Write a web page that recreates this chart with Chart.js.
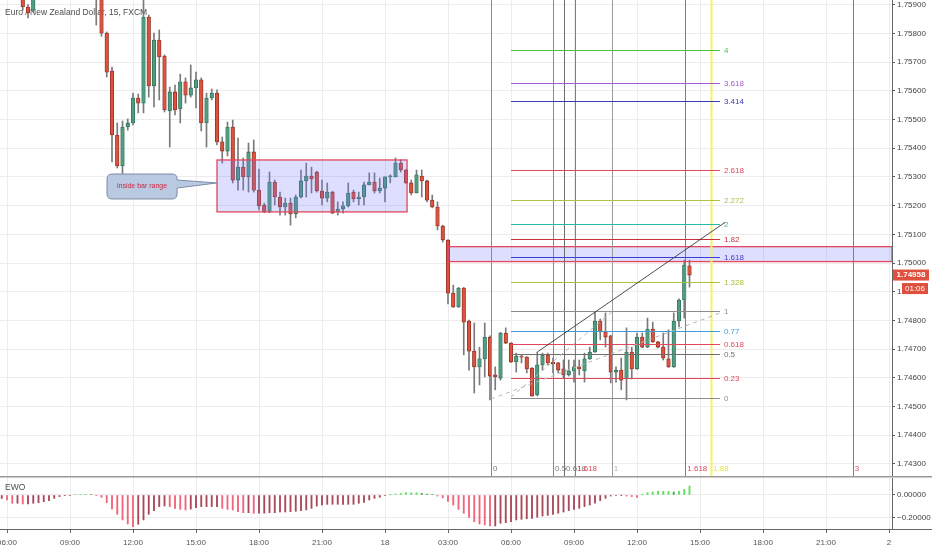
<!DOCTYPE html>
<html><head><meta charset="utf-8">
<script src="https://cdn.jsdelivr.net/npm/chart.js@4.4.0/dist/chart.umd.min.js"></script>
<style>
html,body{margin:0;padding:0;background:#fff;overflow:hidden;width:932px;height:550px}
.pane{position:absolute;left:0;width:932px}
</style></head><body>
<div class="pane" style="top:0;height:476px"><canvas id="main"></canvas></div>
<div class="pane" style="top:476px;height:74px"><canvas id="ewo"></canvas></div>
<script>
// ---------- data ----------
const titleText = 'Euro / New Zealand Dollar, 15, FXCM';
const timeLabels = ['06:00','09:00','12:00','15:00','18:00','21:00','18','03:00','06:00','09:00','12:00','15:00','18:00','21:00','2'];
const timeTickIdx = timeLabels.map((_, k) => 1 + 12 * k);
const priceTicks = [1.743,1.744,1.745,1.746,1.747,1.748,1.749,1.750,1.751,1.752,1.753,1.754,1.755,1.756,1.757,1.758,1.759];
const ewoTicks = [0, -0.2];

const opens = [1.7596,1.7595,1.7597,1.7598,1.7594,1.75892,1.75881,1.7595,1.7600,1.7602,1.7599,1.7605,1.7603,1.7598,1.7601,1.7603,1.7597,1.7599,1.7595,1.7593,
1.75801,1.75669,1.75446,1.75338,1.75474,1.75488,1.75575,1.75557,1.75857,1.75617,1.75777,1.75721,1.7553,1.75596,1.75537,1.75631,1.75585,1.7561,1.75638,1.75488,
1.75575,1.75592,1.75422,1.7539,1.75474,1.75289,1.75334,1.753,1.75387,1.75254,1.75202,1.75178,1.75282,1.7523,1.75195,1.75209,1.75171,1.7523,1.75286,1.75303,
1.75317,1.75251,1.75226,1.75247,1.75178,1.75188,1.75199,1.75247,1.75223,1.7523,1.75272,1.75282,1.75251,1.75261,1.753,1.753,1.75348,1.75324,1.75279,1.75244,
1.75303,1.75286,1.75219,1.75195,1.75129,1.7508,1.74895,1.74847,1.74913,1.74798,1.74693,1.74638,1.74666,1.74742,1.7461,1.74599,1.74756,1.74721,1.74655,1.74676,
1.74672,1.74634,1.7454,1.74645,1.74679,1.74655,1.74652,1.74631,1.7461,1.74624,1.74638,1.74624,1.74666,1.7469,1.74798,1.7476,1.74746,1.7462,1.74627,1.74596,
1.7469,1.74631,1.74742,1.74707,1.7477,1.74725,1.74707,1.74666,1.74638,1.74798,1.74871,1.7499];
const highs = [1.7599,1.7598,1.7600,1.7600,1.7596,1.7590,1.7598,1.7601,1.7604,1.7603,1.7606,1.7608,1.7604,1.7602,1.7605,1.7604,1.7600,1.7601,1.7597,1.7594,
1.75805,1.75683,1.75488,1.75495,1.75502,1.75592,1.75589,1.7592,1.75864,1.75801,1.75812,1.75725,1.75613,1.7562,1.75658,1.75645,1.7569,1.75665,1.75645,1.75592,
1.75606,1.75603,1.75439,1.75491,1.75498,1.75435,1.75366,1.75418,1.75429,1.75327,1.75209,1.75317,1.75289,1.75247,1.75226,1.75226,1.75237,1.75324,1.75348,1.75334,
1.7532,1.75289,1.75279,1.7525,1.75213,1.75213,1.75279,1.75254,1.75247,1.75282,1.75314,1.75314,1.75296,1.753,1.75307,1.75366,1.75359,1.75326,1.75289,1.75324,
1.75324,1.75289,1.75237,1.75213,1.75132,1.75082,1.74923,1.74915,1.74915,1.74801,1.74791,1.74707,1.74791,1.74746,1.74638,1.74758,1.74774,1.74723,1.74686,1.74679,
1.74674,1.74636,1.7469,1.74686,1.74686,1.74669,1.74654,1.74662,1.74662,1.74662,1.74662,1.74686,1.74707,1.74829,1.74805,1.74826,1.74748,1.74638,1.74669,1.74774,
1.74707,1.74756,1.74756,1.74808,1.74794,1.74727,1.74756,1.74767,1.74826,1.74875,1.7501,1.7501];
const lows = [1.7593,1.7592,1.7594,1.7593,1.7588,1.75854,1.75875,1.7594,1.7598,1.7597,1.7598,1.7601,1.7597,1.7594,1.7599,1.7596,1.7593,1.7593,1.75829,1.7579,
1.75648,1.75352,1.75331,1.75289,1.75463,1.75481,1.75523,1.75523,1.75578,1.75544,1.75568,1.75526,1.75404,1.75516,1.75488,1.75557,1.75578,1.7554,1.7546,1.75404,
1.75568,1.75411,1.75348,1.75373,1.75279,1.75254,1.75254,1.75247,1.75247,1.75185,1.75175,1.75175,1.75202,1.75167,1.75167,1.75132,1.75157,1.75226,1.7523,1.75244,
1.75247,1.75202,1.75213,1.75172,1.75167,1.75174,1.75195,1.75213,1.75202,1.75202,1.75272,1.75244,1.75244,1.75213,1.75279,1.753,1.75317,1.75277,1.75237,1.75244,
1.7523,1.75213,1.75192,1.75115,1.75073,1.74857,1.74845,1.74845,1.7468,1.74627,1.74547,1.74575,1.74603,1.74523,1.74558,1.74592,1.74719,1.74653,1.7462,1.74652,
1.74617,1.74535,1.74537,1.74627,1.74645,1.74617,1.74617,1.74599,1.74606,1.74585,1.7461,1.74585,1.74664,1.74688,1.74732,1.74707,1.74582,1.74585,1.74558,1.74523,
1.74596,1.74629,1.74705,1.74705,1.74723,1.74704,1.74662,1.74636,1.74636,1.74777,1.74808,1.74916];
const closes = [1.7595,1.7597,1.7598,1.7594,1.75892,1.75871,1.7595,1.7600,1.7602,1.7599,1.7605,1.7603,1.7598,1.7601,1.7603,1.7597,1.7599,1.7595,1.7593,1.75801,
1.75665,1.75446,1.75338,1.75474,1.75488,1.75575,1.75557,1.75857,1.75617,1.75777,1.75718,1.75533,1.75596,1.75533,1.75631,1.75585,1.7561,1.75638,1.75488,1.75575,
1.75592,1.75422,1.7539,1.75474,1.75289,1.75334,1.753,1.75387,1.75254,1.75199,1.7518,1.75282,1.7523,1.75195,1.75209,1.75171,1.7523,1.75286,1.75303,1.75293,
1.75251,1.75226,1.75247,1.75174,1.75188,1.75199,1.75244,1.75223,1.7523,1.75272,1.75282,1.75251,1.75261,1.753,1.75301,1.75348,1.75324,1.75279,1.75244,1.75307,
1.75286,1.75219,1.75195,1.75129,1.7508,1.74895,1.74847,1.74913,1.74794,1.74693,1.74638,1.74666,1.74742,1.74606,1.74603,1.74756,1.74721,1.74655,1.74676,1.74672,
1.74631,1.74537,1.74645,1.74679,1.74652,1.74648,1.74627,1.7461,1.74624,1.74638,1.74631,1.74666,1.7469,1.74798,1.7476,1.74742,1.7462,1.74627,1.74592,1.7469,
1.74631,1.74742,1.74707,1.7477,1.74725,1.74707,1.74669,1.74638,1.74798,1.74871,1.74993,1.74958];

const ewo = [-0.03,-0.043,-0.072,-0.072,-0.078,-0.078,-0.072,-0.067,-0.058,-0.049,-0.029,-0.014,-0.006,-0.002,0.005,0.006,0.006,0.003,-0.006,-0.02,
-0.067,-0.124,-0.168,-0.217,-0.252,-0.275,-0.255,-0.217,-0.168,-0.136,-0.101,-0.096,-0.101,-0.116,-0.125,-0.13,-0.122,-0.11,-0.101,-0.101,
-0.101,-0.101,-0.116,-0.125,-0.13,-0.145,-0.154,-0.154,-0.159,-0.159,-0.159,-0.154,-0.154,-0.148,-0.148,-0.145,-0.142,-0.136,-0.13,-0.116,
-0.096,-0.087,-0.081,-0.081,-0.081,-0.081,-0.081,-0.081,-0.072,-0.064,-0.043,-0.029,-0.02,-0.006,0.001,0.009,0.014,0.02,0.02,0.02,
0.014,0.009,0.003,-0.009,-0.025,-0.055,-0.087,-0.125,-0.159,-0.194,-0.232,-0.252,-0.261,-0.27,-0.27,-0.246,-0.241,-0.232,-0.217,-0.212,
-0.206,-0.203,-0.194,-0.183,-0.177,-0.168,-0.159,-0.148,-0.136,-0.125,-0.116,-0.101,-0.087,-0.072,-0.049,-0.029,-0.009,-0.003,-0.001,-0.009,
-0.014,-0.02,0.001,0.02,0.026,0.032,0.032,0.032,0.026,0.032,0.049,0.078];

// drawing tools (bar index / price)
const fibLevels = [0,0.23,0.5,0.618,0.77,1,1.328,1.618,1.82,2,2.272,2.618,3.414,3.618,4];
const fibLabels = ['0','0.23','0.5','0.618','0.77','1','1.328','1.618','1.82','2','2.272','2.618','3.414','3.618','4'];
const fibColors = ['#8c8c8c','#e2475c','#6e6e6e','#e2475c','#3d9fd6','#8c8c8c','#a9c23a','#3c3cd6','#c8323f','#2db8a8','#b2c244','#e2475c','#3a3ab4','#a35ad2','#4cc244'];
const fibStartIdx = 97, fibEndIdx = 136.8;
const fibPrice0 = 1.745307, fibPrice1 = 1.748338;

const timeFibIdx = [93.2,105.0,107.1,109.2,116.2,130.2,135.1,162.1];
const timeFibLabels = ['0','0.5','0.618','1.618','1','1.618','1.88','3'];
const timeFibColors = ['#8a8a8a','#8a8a8a','#6e6e6e','#e8505f','#9a9a9a','#e8505f','#f3f36a','#e8505f'];
const timeFibTextColors = ['#7a7a7a','#7a7a7a','#7a7a7a','#e2475c','#b0b0b0','#e2475c','#e6e23c','#e2475c'];

const zoneStart = [41, 85], zoneEnd = [77.2, 170], zoneTop = [1.75359, 1.75057], zoneBottom = [1.75178, 1.75005];
const trendX = [102.1, 137.8], trendY = [1.74691, 1.75142];
const dashAX = [93.2, 136.8], dashAY = [1.745261, 1.748258];
const dashBX = [97, 116.2], dashBY = [1.745331, 1.748293];
const calloutX = [20.05, 33.4], calloutY = [1.7531, 1.75223], calloutTip = [41, 1.75279];
const calloutText = 'inside bar range';
const timerText = '01:06';

// ---------- derived ----------
const idx = opens.map((_, i) => i);
const isUp = idx.map(i => closes[i] >= opens[i]);
const xMin = -1.75 / 5.25, xMax = xMin + 892 / 5.25;
const FONT = '"Liberation Sans", Arial, sans-serif';

function lineP(ctx, x, y, xs, ys, color, w, dash) {
  ctx.save(); ctx.strokeStyle = color; ctx.lineWidth = w; ctx.setLineDash(dash || []);
  ctx.beginPath(); ctx.moveTo(x.getPixelForValue(xs[0]), y.getPixelForValue(ys[0]));
  ctx.lineTo(x.getPixelForValue(xs[1]), y.getPixelForValue(ys[1])); ctx.stroke(); ctx.restore();
}

const overlay = {
  id: 'overlay',
  beforeDatasetsDraw(chart) {
    const ctx = chart.ctx;
    ctx.save(); ctx.font = '8.5px ' + FONT; ctx.fillStyle = '#4d4d4d'; ctx.textBaseline = 'middle';
    ctx.fillText(titleText, 5, 13); ctx.restore();
  },
  afterDatasetsDraw(chart) {
    const {ctx, chartArea: a, scales: {x, y}} = chart;
    ctx.save();
    ctx.beginPath(); ctx.rect(a.left, a.top, a.right - a.left, a.bottom - a.top); ctx.clip();
    // zones
    for (let k = 0; k < zoneStart.length; k++) {
      const x0 = x.getPixelForValue(zoneStart[k]), x1 = Math.min(x.getPixelForValue(zoneEnd[k]), a.right);
      const y0 = y.getPixelForValue(zoneTop[k]), y1 = y.getPixelForValue(zoneBottom[k]);
      ctx.fillStyle = 'rgba(118,118,250,0.24)'; ctx.fillRect(x0, y0, x1 - x0, y1 - y0);
      ctx.strokeStyle = '#e2475c'; ctx.lineWidth = 1.3; ctx.strokeRect(x0, y0, x1 - x0, y1 - y0);
    }
    // time fib verticals
    for (let k = 0; k < timeFibIdx.length; k++) {
      const px = Math.round(x.getPixelForValue(timeFibIdx[k])) + 0.5;
      ctx.strokeStyle = timeFibColors[k]; ctx.lineWidth = timeFibColors[k] === '#f3f36a' ? 2 : 1;
      ctx.beginPath(); ctx.moveTo(px, a.top); ctx.lineTo(px, a.bottom); ctx.stroke();
    }
    ctx.font = '8px ' + FONT; ctx.textBaseline = 'middle';
    for (let k = 0; k < timeFibIdx.length; k++) {
      const px = x.getPixelForValue(timeFibIdx[k]);
      ctx.fillStyle = timeFibTextColors[k]; ctx.fillText(timeFibLabels[k], px + 2, a.bottom - 7);
    }
    // fib extension levels
    const fx0 = x.getPixelForValue(fibStartIdx), fx1 = x.getPixelForValue(fibEndIdx);
    for (let k = 0; k < fibLevels.length; k++) {
      const p = fibPrice0 + fibLevels[k] * (fibPrice1 - fibPrice0);
      const py = Math.round(y.getPixelForValue(p)) + 0.5;
      ctx.strokeStyle = fibColors[k]; ctx.lineWidth = 1;
      ctx.beginPath(); ctx.moveTo(fx0, py); ctx.lineTo(fx1, py); ctx.stroke();
      ctx.fillStyle = fibColors[k]; ctx.fillText(fibLabels[k], fx1 + 4, py);
    }
    // trend lines
    lineP(ctx, x, y, trendX, trendY, '#3a3a3a', 0.9);
    lineP(ctx, x, y, dashAX, dashAY, '#b5b5b5', 1, [4, 4]);
    lineP(ctx, x, y, dashBX, dashBY, '#b5b5b5', 1, [4, 4]);
    // callout
    const cx0 = x.getPixelForValue(calloutX[0]), cx1 = x.getPixelForValue(calloutX[1]);
    const cy0 = y.getPixelForValue(calloutY[0]), cy1 = y.getPixelForValue(calloutY[1]);
    const tx = x.getPixelForValue(calloutTip[0]), ty = y.getPixelForValue(calloutTip[1]);
    const r = 5;
    ctx.beginPath();
    ctx.moveTo(cx0 + r, cy0);
    ctx.lineTo(cx1 - r, cy0); ctx.quadraticCurveTo(cx1, cy0, cx1, cy0 + r);
    ctx.lineTo(cx1, cy0 + 6); ctx.lineTo(tx, ty); ctx.lineTo(cx1, cy0 + 14);
    ctx.lineTo(cx1, cy1 - r); ctx.quadraticCurveTo(cx1, cy1, cx1 - r, cy1);
    ctx.lineTo(cx0 + r, cy1); ctx.quadraticCurveTo(cx0, cy1, cx0, cy1 - r);
    ctx.lineTo(cx0, cy0 + r); ctx.quadraticCurveTo(cx0, cy0, cx0 + r, cy0);
    ctx.closePath();
    ctx.fillStyle = '#b9c9e2'; ctx.fill(); ctx.strokeStyle = '#7d8ca6'; ctx.lineWidth = 1; ctx.stroke();
    ctx.fillStyle = '#c8283f'; ctx.font = '7px ' + FONT; ctx.textAlign = 'center';
    ctx.fillText(calloutText, (cx0 + cx1) / 2, (cy0 + cy1) / 2);
    ctx.restore();
  },
  afterDraw(chart) {
    const {ctx, chartArea: a, scales: {y}} = chart;
    const last = closes[closes.length - 1];
    const py = y.getPixelForValue(last);
    ctx.save();
    ctx.fillStyle = '#df4f3e';
    ctx.fillRect(a.right + 1, py - 5.5, 36, 11);
    ctx.fillRect(a.right + 10, py + 8, 26, 11);
    ctx.fillStyle = '#fff'; ctx.font = 'bold 8px ' + FONT; ctx.textBaseline = 'middle'; ctx.textAlign = 'center';
    ctx.fillText(last.toFixed(5), a.right + 19, py);
    ctx.font = '8px ' + FONT;
    ctx.fillText(timerText, a.right + 23, py + 13.5);
    ctx.restore();
  }
};

const xScaleBase = (showLabels) => ({
  type: 'linear', min: xMin, max: xMax, offset: false,
  afterBuildTicks: s => { s.ticks = timeTickIdx.map(v => ({value: v})); },
  grid: {color: '#ececec', offset: false, drawTicks: showLabels, tickLength: 4, tickColor: '#666'},
  border: {display: showLabels, color: '#666', width: 1},
  ticks: {display: showLabels, autoSkip: false, maxRotation: 0, padding: 5, color: '#555',
          font: {size: 8, family: FONT}, callback: (v, i) => timeLabels[i]},
  afterFit: s => { if (showLabels) { s.height = 21; } else { s.height = 0; } s.paddingLeft = 0; s.paddingRight = 0; }
});

new Chart(document.getElementById('main'), {
  type: 'bar',
  data: {
    datasets: [
      {label: 'body', order: 1, grouped: false, data: idx.map(i => ({x: i, y: [opens[i], closes[i]]})),
       backgroundColor: idx.map(i => isUp[i] ? '#4f9e80' : '#d9533f'),
       borderColor: idx.map(i => isUp[i] ? '#2f6a55' : '#8e2b22'),
       borderWidth: 0.8, borderSkipped: false, minBarLength: 1,
       categoryPercentage: 1, barPercentage: 1, maxBarThickness: 3.6},
      {label: 'wick', order: 2, grouped: false, data: idx.map(i => ({x: i, y: [lows[i], highs[i]]})),
       backgroundColor: '#7a7a7a', borderWidth: 0, categoryPercentage: 1, barPercentage: 1, maxBarThickness: 1}
    ]
  },
  options: {
    responsive: true, maintainAspectRatio: false, animation: false, events: [],
    layout: {padding: 0},
    plugins: {legend: {display: false}, tooltip: {enabled: false}},
    scales: {
      x: xScaleBase(false),
      y: {type: 'linear', position: 'right', min: 1.7425784, max: 1.7591638,
          afterBuildTicks: s => { s.ticks = priceTicks.map(v => ({value: v})); },
          grid: {color: '#ececec', drawTicks: true, tickLength: 3, tickColor: '#555'},
          border: {display: true, color: '#666', width: 1},
          ticks: {color: '#444', padding: 2, font: {size: 8, family: FONT}, callback: v => v.toFixed(5)},
          afterFit: s => { s.width = 40; s.paddingTop = 0; s.paddingBottom = 0; }}
    }
  },
  plugins: [overlay]
});

const ewoColors = ewo.map((v, i) => {
  const prev = i ? ewo[i - 1] : v;
  if (v >= 0) return v >= prev ? '#5ee05e' : '#3aa64a';
  return v < prev ? '#f2647a' : '#a8485a';
});

const ewoOverlay = {
  id: 'ewoOverlay',
  beforeDraw(chart) {
    const ctx = chart.ctx;
    ctx.save(); ctx.fillStyle = '#9a9a9a'; ctx.fillRect(0, 0, 932, 1.5); ctx.restore();
  },
  afterDraw(chart) {
    const {ctx, chartArea: a} = chart;
    ctx.save(); ctx.font = '8.5px ' + FONT; ctx.fillStyle = '#4d4d4d'; ctx.textBaseline = 'middle';
    ctx.fillText('EWO', 5, 12);
    ctx.strokeStyle = '#666'; ctx.lineWidth = 1;
    ctx.beginPath(); ctx.moveTo(a.right, a.bottom + 0.5); ctx.lineTo(932, a.bottom + 0.5); ctx.stroke();
    ctx.restore();
  }
};

new Chart(document.getElementById('ewo'), {
  type: 'bar',
  data: {datasets: [{label: 'EWO', grouped: false, data: idx.map(i => ({x: i, y: ewo[i]})),
    backgroundColor: ewoColors, borderWidth: 0, categoryPercentage: 1, barPercentage: 1, maxBarThickness: 1.2}]},
  options: {
    responsive: true, maintainAspectRatio: false, animation: false, events: [],
    layout: {padding: {top: 2}},
    plugins: {legend: {display: false}, tooltip: {enabled: false}},
    scales: {
      x: xScaleBase(true),
      y: {type: 'linear', position: 'right', min: -0.2957, max: 0.1478,
          afterBuildTicks: s => { s.ticks = ewoTicks.map(v => ({value: v})); },
          grid: {color: '#ececec', drawTicks: true, tickLength: 3, tickColor: '#555'},
          border: {display: true, color: '#666', width: 1},
          ticks: {color: '#444', padding: 2, font: {size: 8, family: FONT},
                  callback: v => v.toFixed(5).replace('-', '\u2212')},
          afterFit: s => { s.width = 40; s.paddingTop = 0; s.paddingBottom = 0; }}
    }
  },
  plugins: [ewoOverlay]
});
</script>
</body></html>
